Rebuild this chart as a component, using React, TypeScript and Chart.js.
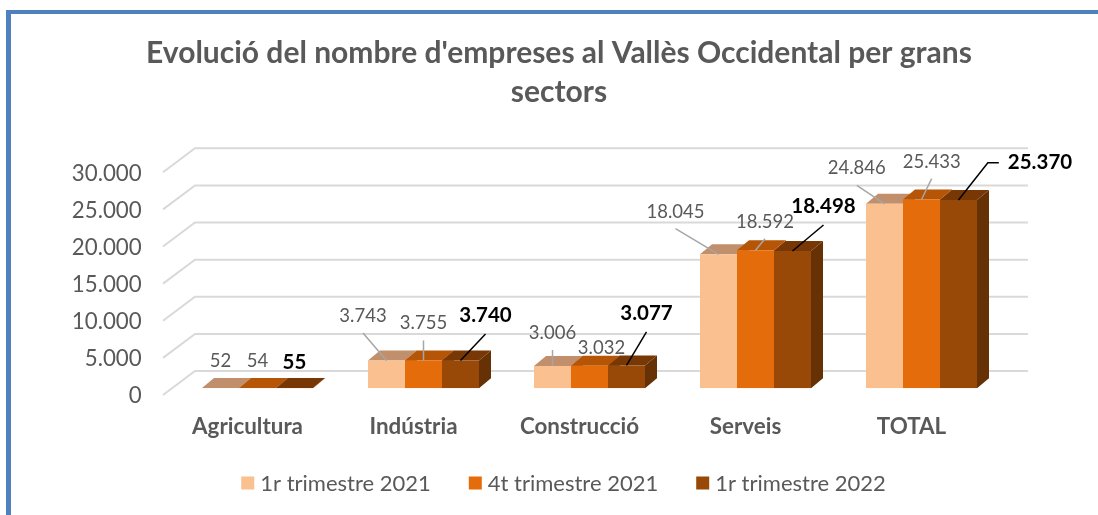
import React, { useEffect, useRef } from "react";
import { Chart, registerables } from "chart.js";

Chart.register(...registerables);

// ---- data ----
const categories = ["Agricultura", "Indústria", "Construcció", "Serveis", "TOTAL"];
const seriesNames = ["1r trimestre 2021", "4t trimestre 2021", "1r trimestre 2022"];
const q1_2021 = [52, 3743, 3006, 18045, 24846];
const q4_2021 = [54, 3755, 3032, 18592, 25433];
const q1_2022 = [55, 3740, 3077, 18498, 25370];
const yTicks = [0, 5000, 10000, 15000, 20000, 25000, 30000];
const titleLines = [
  "Evolució del nombre d'empreses al Vallès Occidental per grans",
  "sectors",
];

// ---- styles ----
const FRONT = ["#FAC090", "#E46C0A", "#984807"];
const TOP = ["#C18F6B", "#B55505", "#773806"];
const SIDE = ["#B9783F", "#9E4906", "#663104"];
const GREY_TEXT = "#595959";
const GRID = "#D9D9D9";
const FONT = "Lato, 'Open Sans', sans-serif";
const DEPTH_DX = 12;
const DEPTH_DY = -10;

// label offsets relative to bar front-top centre: [dx, dy, leaderType]
const labelLayout: number[][][] = [
  [[0, -26.5, 0], [-23.5, -44.5, 1], [0, -33, 1], [-43, -42.7, 1], [-27.7, -35.6, 1]],
  [[0, -26.5, 0], [0, -37, 1], [12, -18, 0], [9.5, -28.6, 1], [10.2, -37.8, 1]],
  [[0, -26, 0], [25, -45.5, 1], [20, -52.5, 1], [31, -45, 1], [81.5, -37.3, 2]],
];

const fmt = (v: number) => String(v).replace(/\B(?=(\d{3})+(?!\d))/g, ".");

const threeD = {
  id: "threeD",
  beforeDatasetsDraw(chart: any) {
    const ctx = chart.ctx;
    const area = chart.chartArea;
    const ys = chart.scales.y;
    ctx.save();
    // grid: back wall lines and left wall diagonals
    ctx.strokeStyle = GRID;
    ctx.lineWidth = 2;
    yTicks.forEach((v) => {
      const p = ys.getPixelForValue(v);
      const yb = p - 17.3;
      const yf = p + 6.7;
      ctx.beginPath();
      ctx.moveTo(area.left - 11.5, yf);
      ctx.lineTo(area.left + 20.5, yb);
      ctx.lineTo(area.right + 23.5, yb);
      ctx.stroke();
    });
    const metas = [0, 1, 2].map((i) => chart.getDatasetMeta(i));
    // side faces
    metas.forEach((meta: any, i: number) => {
      meta.data.forEach((bar: any) => {
        const xr = bar.x + bar.width / 2;
        ctx.fillStyle = SIDE[i];
        ctx.beginPath();
        ctx.moveTo(xr, bar.y);
        ctx.lineTo(xr + DEPTH_DX, bar.y + DEPTH_DY);
        ctx.lineTo(xr + DEPTH_DX, bar.base + DEPTH_DY);
        ctx.lineTo(xr, bar.base);
        ctx.closePath();
        ctx.fill();
      });
    });
    // top faces
    metas.forEach((meta: any, i: number) => {
      meta.data.forEach((bar: any) => {
        const xl = bar.x - bar.width / 2;
        const xr = bar.x + bar.width / 2;
        ctx.fillStyle = TOP[i];
        ctx.beginPath();
        ctx.moveTo(xl, bar.y);
        ctx.lineTo(xr, bar.y);
        ctx.lineTo(xr + DEPTH_DX, bar.y + DEPTH_DY);
        ctx.lineTo(xl + DEPTH_DX, bar.y + DEPTH_DY);
        ctx.closePath();
        ctx.fill();
      });
    });
    ctx.restore();
  },
  afterDatasetsDraw(chart: any) {
    const ctx = chart.ctx;
    ctx.save();
    ctx.textAlign = "center";
    ctx.textBaseline = "middle";
    [0, 1, 2].forEach((i) => {
      const meta = chart.getDatasetMeta(i);
      const values = chart.data.datasets[i].data as number[];
      const bold = i === 2;
      meta.data.forEach((bar: any, j: number) => {
        const [dx, dy, leader] = labelLayout[i][j];
        const cx = bar.x + dx;
        const cy = bar.y + dy;
        const text = fmt(values[j]);
        ctx.font = bold ? `bold 20.5px ${FONT}` : `18.5px ${FONT}`;
        ctx.fillStyle = bold ? "#000000" : GREY_TEXT;
        ctx.fillText(text, cx, cy);
        if (leader) {
          ctx.strokeStyle = bold ? "#000000" : "#A6A6A6";
          ctx.lineWidth = 1.5;
          ctx.beginPath();
          if (leader === 1) {
            ctx.moveTo(cx, cy + (bold ? 19 : 17));
          } else {
            const w = ctx.measureText(text).width;
            const left = cx - w / 2;
            ctx.moveTo(left - 9, cy);
            ctx.lineTo(left - 20, cy);
          }
          ctx.lineTo(bar.x, bar.y);
          ctx.stroke();
        }
      });
    });
    ctx.restore();
  },
  afterDraw(chart: any) {
    const ctx = chart.ctx;
    ctx.save();
    // title
    ctx.fillStyle = GREY_TEXT;
    ctx.textAlign = "center";
    ctx.textBaseline = "alphabetic";
    ctx.font = `bold 30px ${FONT}`;
    ctx.fillText(titleLines[0], 559, 63);
    ctx.fillText(titleLines[1], 559, 101.5);
    // legend
    ctx.font = `22px ${FONT}`;
    ctx.textAlign = "left";
    ctx.textBaseline = "middle";
    const box = 13;
    const gapText = 6;
    const gapItem = 38;
    const widths = seriesNames.map((s) => ctx.measureText(s).width);
    const total =
      widths.reduce((a, w) => a + box + gapText + w, 0) + gapItem * (seriesNames.length - 1);
    let x = 563.5 - total / 2;
    const y = 483;
    seriesNames.forEach((s, i) => {
      ctx.fillStyle = FRONT[i];
      ctx.fillRect(x, y - box / 2, box, box);
      ctx.fillStyle = GREY_TEXT;
      ctx.fillText(s, x + box + gapText, y + 1);
      x += box + gapText + widths[i] + gapItem;
    });
    ctx.restore();
  },
};

export default function App() {
  const ref = useRef<HTMLCanvasElement>(null);
  useEffect(() => {
    if (!ref.current) return;
    const chart = new Chart(ref.current, {
      type: "bar",
      data: {
        labels: categories,
        datasets: [
          { label: seriesNames[0], data: q1_2021, backgroundColor: FRONT[0] },
          { label: seriesNames[1], data: q4_2021, backgroundColor: FRONT[1] },
          { label: seriesNames[2], data: q1_2022, backgroundColor: FRONT[2] },
        ],
      },
      options: {
        animation: false,
        responsive: false,
        maintainAspectRatio: false,
        layout: { padding: { top: 165.6, left: 0, right: 93.5, bottom: 0 } },
        datasets: {
          bar: { categoryPercentage: 0.6687, barPercentage: 1, borderWidth: 0 },
        },
        plugins: {
          legend: { display: false },
          title: { display: false },
          tooltip: { enabled: false },
        },
        scales: {
          x: {
            type: "category",
            offset: true,
            grid: { display: false, drawTicks: false },
            border: { display: false },
            ticks: {
              color: GREY_TEXT,
              font: { family: FONT, size: 22.4, weight: "bold" },
              padding: 25.5,
              labelOffset: -10,
              maxRotation: 0,
              autoSkip: false,
            },
            afterFit: (s: any) => {
              s.height = 515 - 388.3;
            },
          },
          y: {
            min: 0,
            max: 30000,
            grid: { display: false, drawTicks: false },
            border: { display: false },
            ticks: {
              color: GREY_TEXT,
              font: { family: FONT, size: 22.3 },
              padding: 32.8,
              labelOffset: 8,
              callback: (v: any) => fmt(Number(v)),
            },
            afterBuildTicks: (s: any) => {
              s.ticks = yTicks.map((v) => ({ value: v }));
            },
            afterFit: (s: any) => {
              s.width = 174.5;
            },
          },
        },
      },
      plugins: [threeD],
    });
    return () => chart.destroy();
  }, []);

  return (
    <div
      style={{
        position: "fixed",
        left: 0,
        top: 0,
        width: 1098,
        height: 515,
        background: "#ffffff",
        overflow: "hidden",
      }}
    >
      <div
        style={{
          position: "absolute",
          left: 6,
          top: 10,
          width: 1092,
          height: 505,
          boxSizing: "border-box",
          borderLeft: "5px solid #4F81BD",
          borderTop: "4px solid #4F81BD",
        }}
      />
      <canvas
        ref={ref}
        width={1098}
        height={515}
        style={{ position: "absolute", left: 0, top: 0, width: 1098, height: 515 }}
      />
    </div>
  );
}
